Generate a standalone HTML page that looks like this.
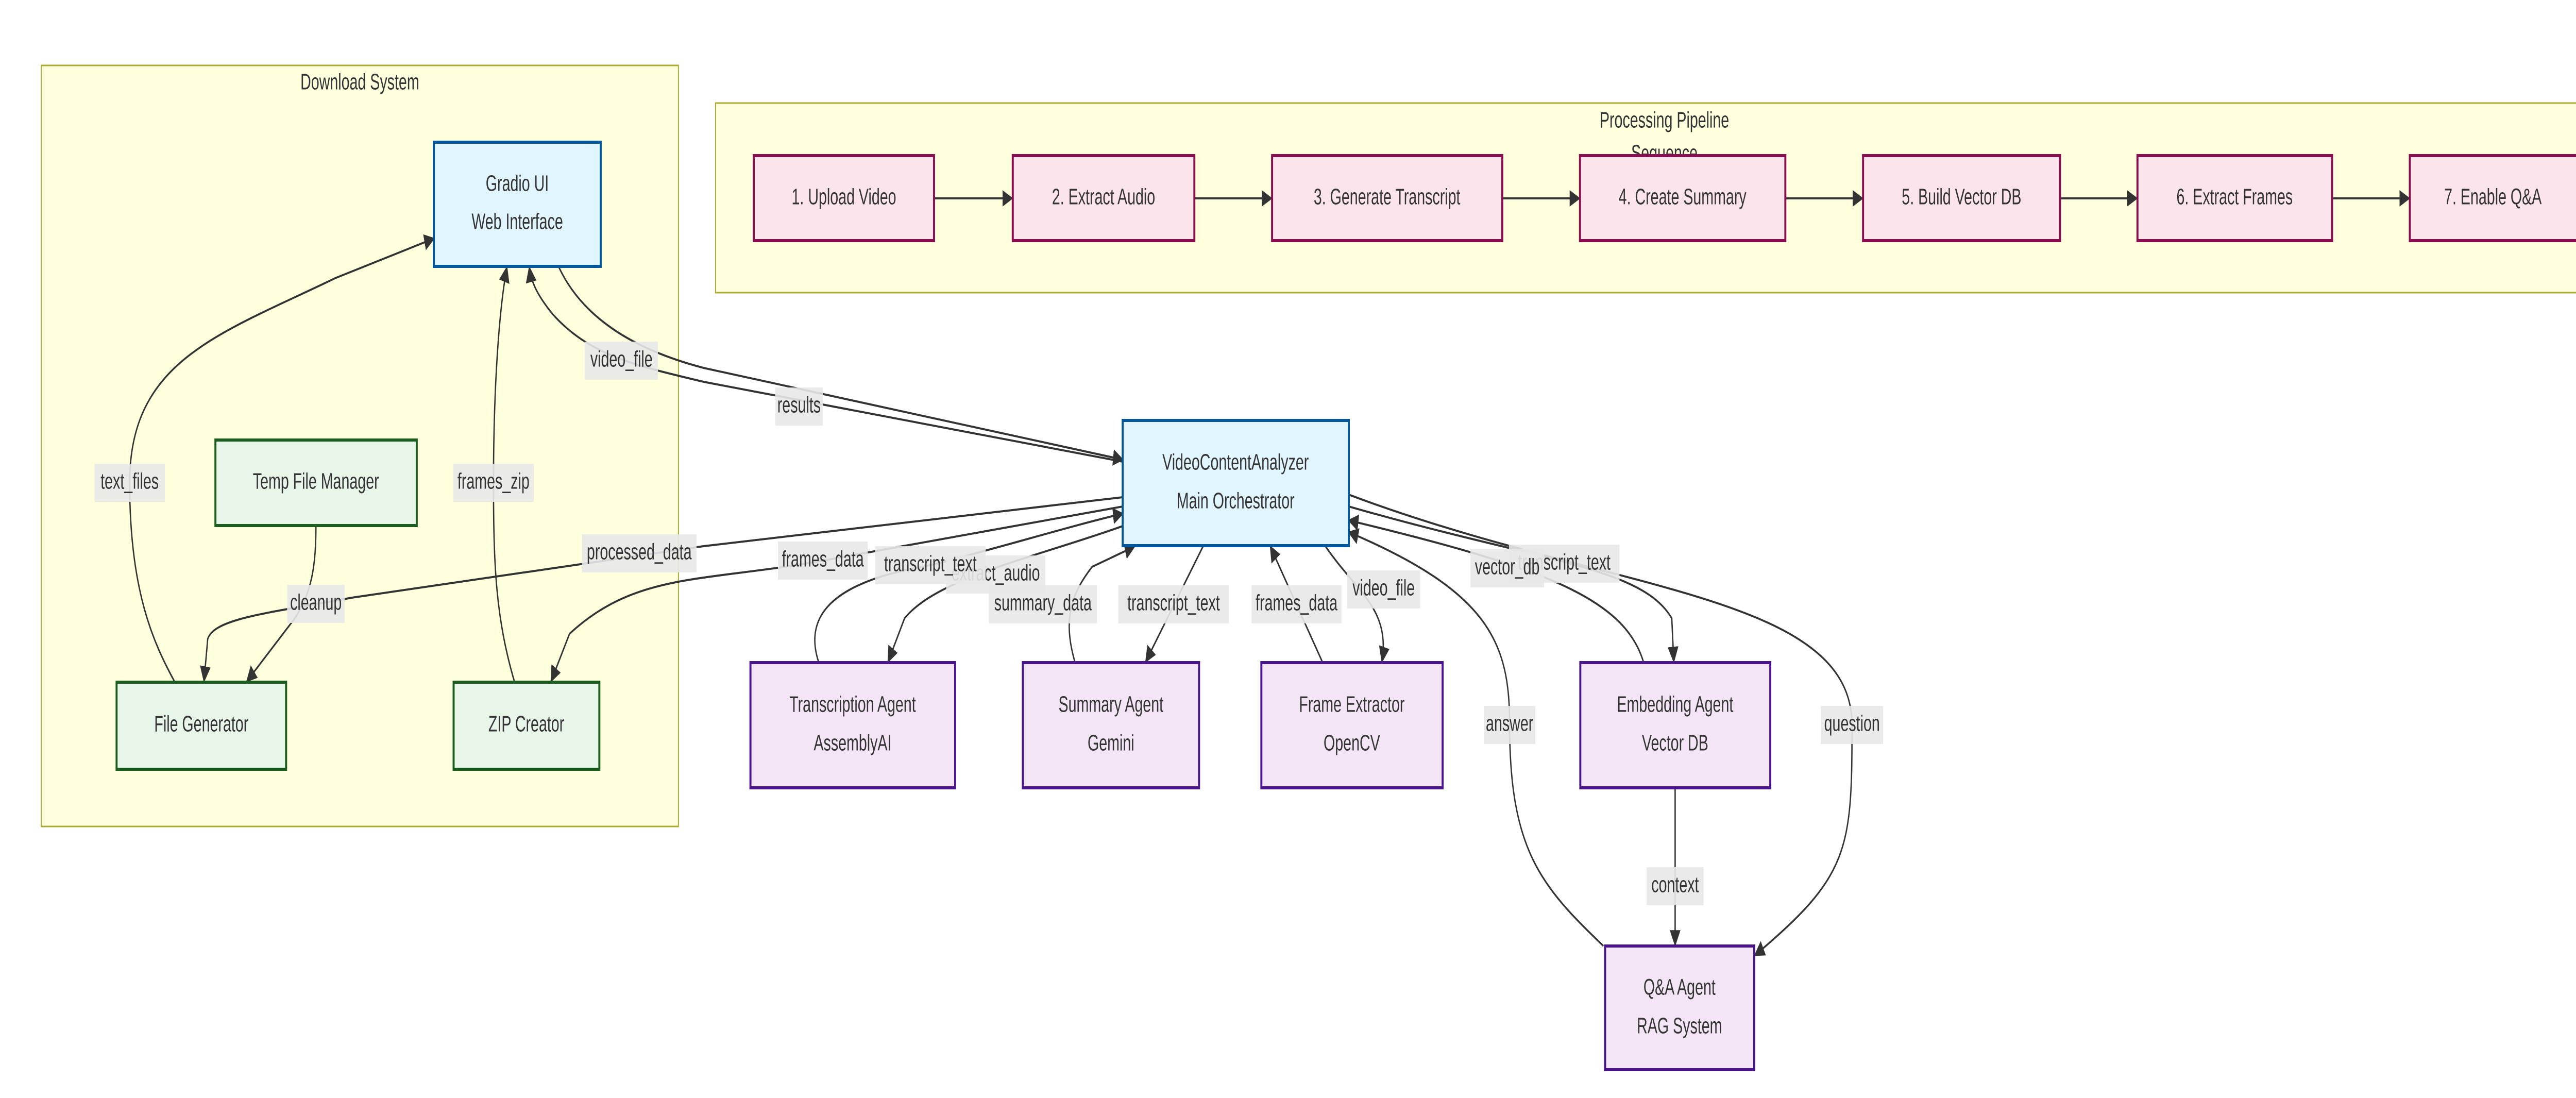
<!DOCTYPE html>
<html><head><meta charset="utf-8"><style>
html,body{margin:0;padding:0;background:#fff;width:100%;height:100%;overflow:hidden;}
svg{display:block;width:100vw;height:100vh;}
text{font-family:"Liberation Sans",sans-serif;fill:#333;font-size:44px;}
.n{text-anchor:middle;dominant-baseline:middle;}
.e{fill:none;stroke:#333;stroke-width:4;}
.lb{fill:#e8e8e8;opacity:0.9;}
</style></head><body>
<svg viewBox="0 0 7689 2131" preserveAspectRatio="none" xmlns="http://www.w3.org/2000/svg">
<defs>
<marker id="ar" viewBox="0 0 10 10" refX="9" refY="5" markerWidth="8" markerHeight="8" orient="auto"><path d="M0,0 L10,5 L0,10 z" fill="#333"/></marker>
</defs>
<rect x="123" y="127" width="1902" height="1477" fill="#ffffde" stroke="#aaaa33" stroke-width="3"/>
<text class="n" x="1074" y="162">Download System</text>
<rect x="2136" y="200" width="5600" height="368" fill="#ffffde" stroke="#aaaa33" stroke-width="3"/>
<text class="n" x="4968" y="236">Processing Pipeline</text>
<text class="n" x="4968" y="300">Sequence</text>

<g class="e" marker-end="url(#ar)">
<path d="M1667,517 C1740,620 1900,680 2100,714 L3351,892"/>
<path d="M3351,896 L2100,741 C1900,710 1760,690 1650,610 C1600,570 1585,545 1580,519"/>
<path d="M522,1324 C460,1250 387,1150 387,937 C387,700 650,650 1000,540 L1295,463"/>
<path d="M1536,1324 C1480,1200 1473,1100 1473,937 C1473,750 1490,600 1513,519"/>
<path d="M943,1020 C943,1100 930,1150 880,1200 L737,1322"/>
<path d="M3351,965 L2100,1060 L1050,1160 C800,1190 640,1200 620,1240 L609,1322"/>
<path d="M3351,983 L2456,1088 C2100,1130 1900,1110 1700,1230 L1645,1322"/>
<path d="M2444,1286 C2400,1200 2470,1130 2777,1097 C3000,1060 3200,1020 3351,997"/>
<path d="M3351,1021 C3100,1080 2800,1120 2700,1200 L2651,1284"/>
<path d="M3209,1286 C3170,1200 3200,1150 3260,1100 L3386,1061"/>
<path d="M3592,1059 L3420,1284"/>
<path d="M3948,1286 L3792,1061"/>
<path d="M3955,1059 C4050,1150 4150,1180 4125,1284"/>
<path d="M4906,1286 C4850,1160 4600,1100 4026,1010"/>
<path d="M4026,983 C4600,1090 4900,1100 4990,1200 L4996,1284"/>
<path d="M4786,1836 C4600,1720 4506,1650 4506,1407 C4506,1250 4450,1150 4026,1033"/>
<path d="M4026,960 C4800,1150 5528,1150 5528,1407 C5528,1650 5520,1700 5238,1854"/>
<path d="M5000,1529 L5000,1834"/>
<path d="M2788,385 L3021,385"/>
<path d="M3565,385 L3795,385"/>
<path d="M4484,385 L4714,385"/>
<path d="M5329,385 L5559,385"/>
<path d="M6149,385 L6378,385"/>
<path d="M6961,385 L7191,385"/>
</g>

<g>
<rect class="lb" x="282" y="900" width="210" height="74"/><text class="n" x="387" y="937">text_files</text>
<rect class="lb" x="1353" y="900" width="240" height="74"/><text class="n" x="1473" y="937">frames_zip</text>
<rect class="lb" x="1746" y="663" width="218" height="74"/><text class="n" x="1855" y="700">video_file</text>
<rect class="lb" x="857" y="1135" width="172" height="74"/><text class="n" x="943" y="1172">cleanup</text>
<rect class="lb" x="1737" y="1037" width="342" height="74"/><text class="n" x="1908" y="1074">processed_data</text>
<rect class="lb" x="2314" y="752" width="142" height="74"/><text class="n" x="2385" y="789">results</text>
<rect class="lb" x="2824" y="1078" width="296" height="74"/><text class="n" x="2972" y="1115">extract_audio</text>
<rect class="lb" x="2322" y="1051" width="268" height="74"/><text class="n" x="2456" y="1088">frames_data</text>
<rect class="lb" x="2612" y="1060" width="330" height="74"/><text class="n" x="2777" y="1097">transcript_text</text>
<rect class="lb" x="2952" y="1136" width="322" height="74"/><text class="n" x="3113" y="1173">summary_data</text>
<rect class="lb" x="3338" y="1136" width="330" height="74"/><text class="n" x="3503" y="1173">transcript_text</text>
<rect class="lb" x="3736" y="1136" width="268" height="74"/><text class="n" x="3870" y="1173">frames_data</text>
<rect class="lb" x="4021" y="1107" width="218" height="74"/><text class="n" x="4130" y="1144">video_file</text>
<rect class="lb" x="4504" y="1057" width="330" height="74"/><text class="n" x="4669" y="1094">transcript_text</text>
<rect class="lb" x="4389" y="1066" width="220" height="74"/><text class="n" x="4499" y="1103">vector_db</text>
<rect class="lb" x="4429" y="1370" width="154" height="74"/><text class="n" x="4506" y="1407">answer</text>
<rect class="lb" x="5435" y="1370" width="186" height="74"/><text class="n" x="5528" y="1407">question</text>
<rect class="lb" x="4915" y="1683" width="170" height="74"/><text class="n" x="5000" y="1720">context</text>
</g>

<g stroke-width="6">
<rect x="1295" y="276" width="498" height="241" fill="#e1f5fe" stroke="#01579b"/>
<rect x="643" y="854" width="601" height="166" fill="#e8f5e9" stroke="#1b5e20"/>
<rect x="348" y="1324" width="506" height="169" fill="#e8f5e9" stroke="#1b5e20"/>
<rect x="1354" y="1324" width="435" height="169" fill="#e8f5e9" stroke="#1b5e20"/>
<rect x="3351" y="816" width="675" height="243" fill="#e1f5fe" stroke="#01579b"/>
<rect x="2240" y="1286" width="611" height="243" fill="#f3e5f5" stroke="#4a148c"/>
<rect x="3053" y="1286" width="526" height="243" fill="#f3e5f5" stroke="#4a148c"/>
<rect x="3765" y="1286" width="541" height="243" fill="#f3e5f5" stroke="#4a148c"/>
<rect x="4717" y="1286" width="567" height="243" fill="#f3e5f5" stroke="#4a148c"/>
<rect x="4791" y="1836" width="445" height="240" fill="#f3e5f5" stroke="#4a148c"/>
<rect x="2250" y="302" width="538" height="165" fill="#fce4ec" stroke="#880e4f"/>
<rect x="3023" y="302" width="542" height="165" fill="#fce4ec" stroke="#880e4f"/>
<rect x="3797" y="302" width="687" height="165" fill="#fce4ec" stroke="#880e4f"/>
<rect x="4716" y="302" width="613" height="165" fill="#fce4ec" stroke="#880e4f"/>
<rect x="5561" y="302" width="588" height="165" fill="#fce4ec" stroke="#880e4f"/>
<rect x="6380" y="302" width="581" height="165" fill="#fce4ec" stroke="#880e4f"/>
<rect x="7193" y="302" width="560" height="165" fill="#fce4ec" stroke="#880e4f"/>
</g>
<g>
<text class="n" x="1544" y="359">Gradio UI</text><text class="n" x="1544" y="433">Web Interface</text>
<text class="n" x="943" y="937">Temp File Manager</text>
<text class="n" x="601" y="1408">File Generator</text>
<text class="n" x="1571" y="1408">ZIP Creator</text>
<text class="n" x="3688" y="900">VideoContentAnalyzer</text><text class="n" x="3688" y="975">Main Orchestrator</text>
<text class="n" x="2545" y="1370">Transcription Agent</text><text class="n" x="2545" y="1445">AssemblyAI</text>
<text class="n" x="3316" y="1370">Summary Agent</text><text class="n" x="3316" y="1445">Gemini</text>
<text class="n" x="4035" y="1370">Frame Extractor</text><text class="n" x="4035" y="1445">OpenCV</text>
<text class="n" x="5000" y="1370">Embedding Agent</text><text class="n" x="5000" y="1445">Vector DB</text>
<text class="n" x="5013" y="1919">Q&amp;A Agent</text><text class="n" x="5013" y="1994">RAG System</text>
<text class="n" x="2519" y="385">1. Upload Video</text>
<text class="n" x="3294" y="385">2. Extract Audio</text>
<text class="n" x="4140" y="385">3. Generate Transcript</text>
<text class="n" x="5022" y="385">4. Create Summary</text>
<text class="n" x="5855" y="385">5. Build Vector DB</text>
<text class="n" x="6670" y="385">6. Extract Frames</text>
<text class="n" x="7441" y="385">7. Enable Q&amp;A</text>
</g>
</svg>
</body></html>
